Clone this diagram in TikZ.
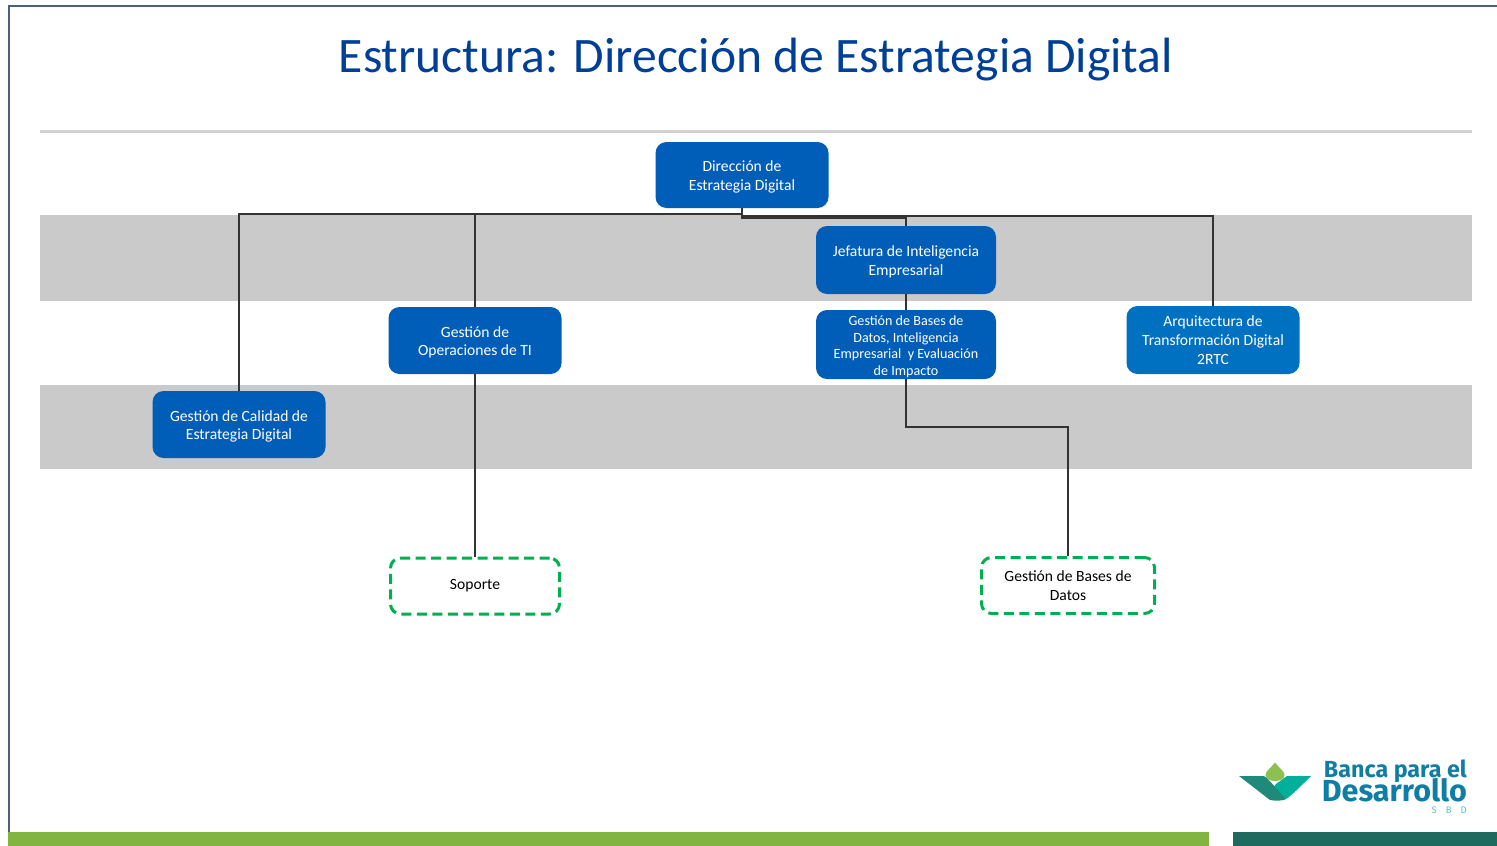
\documentclass[tikz,border=0pt]{standalone}
\usepackage{fontspec}
\setmainfont{Carlito}
\newfontfamily\logofont{Fira Sans}
\definecolor{boxblue}{HTML}{005DB8}
\definecolor{boxblue2}{HTML}{0070C0}
\definecolor{titleblue}{HTML}{003F98}
\definecolor{band}{HTML}{CACACA}
\definecolor{rulegray}{HTML}{D2D2D2}
\definecolor{frameblue}{HTML}{4A5F80}
\definecolor{dashgreen}{HTML}{00B050}
\definecolor{barleft}{HTML}{82B441}
\definecolor{barright}{HTML}{1F6A5E}
\definecolor{logoblue}{HTML}{0F7DA6}
\definecolor{logoteal}{HTML}{00B09B}
\definecolor{logodark}{HTML}{1F8A7A}
\definecolor{logogreen}{HTML}{8CC152}
\definecolor{logocyan}{HTML}{4FC7C7}
\definecolor{linecol}{HTML}{333333}
\newcommand{\lowerstrut}{\rule{0pt}{14.5pt}}
\tikzset{
  x=1pt,y=-1pt,
  orgbox/.style={draw=none,fill=boxblue,rounded corners=11pt,text=white,align=center,inner sep=0pt,font=\fontsize{15.6}{18.8}\selectfont},
  dashbox/.style={draw=dashgreen,line width=3pt,dash pattern=on 10pt off 5.5pt,fill=white,rounded corners=10pt,text=black,align=center,inner sep=0pt,font=\fontsize{15.6}{18.8}\selectfont},
  link/.style={draw=linecol,line width=1.7pt},
}
\begin{document}
\begin{tikzpicture}
\useasboundingbox (0,0) rectangle (1497,846);
\fill[white] (0,0) rectangle (1497,846);
% frame
\draw[frameblue,line width=2pt] (8.5,846) -- (8.5,6) -- (1497,6);
% title and rule
\node[text=titleblue,font=\fontsize{49.6}{54}\selectfont,inner sep=0pt,anchor=center] (title) at (756,60) {Estructura: Dirección de Estrategia Digital};
\fill[rulegray] (40,130) rectangle (1472,132.5);
% bands
\fill[band] (40,215) rectangle (1472,300.5);
\fill[band] (40,385) rectangle (1472,469);
% bottom bars
\fill[barleft] (8,832) rectangle (1209,846);
\fill[barright] (1233,832) rectangle (1497,846);
% nodes
\node[orgbox,minimum width=173pt,minimum height=66pt] (dir) at (742,175) {\lowerstrut Dirección de\\Estrategia Digital};
\node[orgbox,minimum width=180pt,minimum height=68pt] (jef) at (906,260) {\lowerstrut Jefatura de Inteligencia\\Empresarial};
\node[orgbox,minimum width=173pt,minimum height=67pt] (ops) at (475,340.5) {\lowerstrut Gestión de\\Operaciones de TI};
\node[orgbox,minimum width=180pt,minimum height=69pt,font=\fontsize{14.1}{16.7}\selectfont] (bd) at (906,344.5) {\lowerstrut Gestión de Bases de\\Datos, Inteligencia\\Empresarial~ y Evaluación\\de Impacto};
\node[orgbox,fill=boxblue2,minimum width=173pt,minimum height=68pt] (arq) at (1213,340) {Arquitectura de\\Transformación Digital\\2RTC};
\node[orgbox,minimum width=173pt,minimum height=67pt] (cal) at (239,424.5) {\lowerstrut Gestión de Calidad de\\Estrategia Digital};
\node[dashbox,minimum width=169pt,minimum height=56pt] (sop) at (475,586) {Soporte};
\node[dashbox,minimum width=173pt,minimum height=56pt] (gbd) at (1068,585.5) {Gestión de Bases de\\Datos};
% connectors
\draw[link] (dir.south) -- ++(0,5.5) -| (cal.north);
\draw[link] (dir.south) -- ++(0,5.5) -| (ops.north);
\draw[link] (dir.south) -- ++(0,9.5) -| (jef.north);
\draw[link] (dir.south) -- ++(0,7.5) -| (arq.north);
\draw[link] (jef.south) -- (bd.north);
\draw[link] (ops.south) -- (sop.north);
\draw[link] (bd.south) -- ++(0,47.5) -| (gbd.north);
% logo
\fill[logogreen] (1275,762.5) .. controls (1279,768) and (1284.5,771) .. (1284.5,775) .. controls (1284.5,783) and (1265.5,783) .. (1265.5,775) .. controls (1265.5,771) and (1271,768) .. (1275,762.5) -- cycle;
\fill[logoteal] (1311,776) -- (1287,776) -- (1276,784) -- (1272,789) -- (1286,799) .. controls (1291,796) and (1300,787) .. (1311,776) -- cycle;
\fill[logodark] (1239,776) -- (1264,776) .. controls (1270,780) and (1277,790) .. (1286,799) .. controls (1283,801) and (1276,801) .. (1270,800) -- cycle;
\node[text=logoblue,font=\logofont\bfseries\fontsize{23.3}{23}\selectfont,inner sep=0pt,anchor=east] (lg1) at (1467,771) {Banca para el};
\node[text=logoblue,font=\logofont\bfseries\fontsize{30.5}{30}\selectfont,inner sep=0pt,anchor=east] (lg2) at (1467,790) {Desarrollo};
\node[text=logocyan,font=\logofont\fontsize{9.5}{10}\selectfont,inner sep=0pt,anchor=east] (lg3) at (1467,810) {S\hspace{9pt}B\hspace{9pt}D};
\end{tikzpicture}
\end{document}
